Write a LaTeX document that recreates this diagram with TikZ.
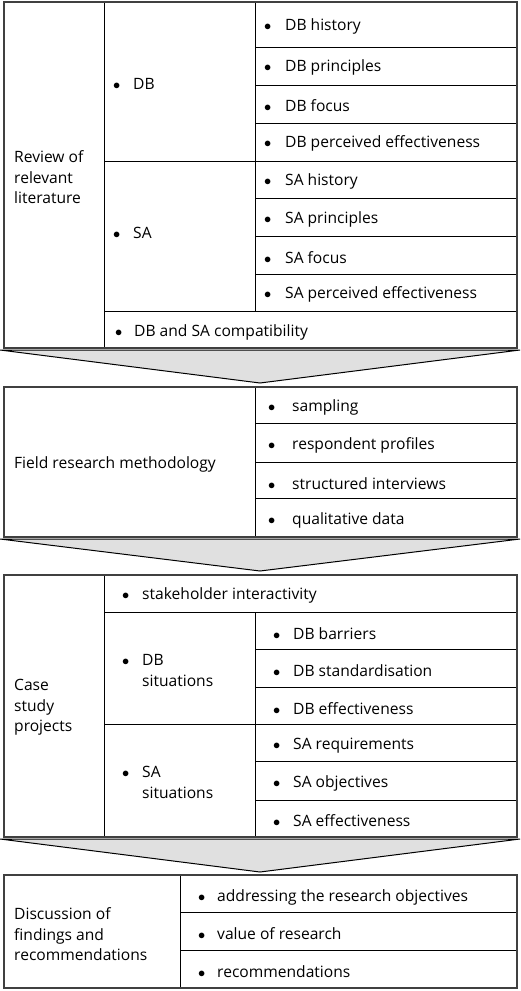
\documentclass[tikz,border=0pt]{standalone}
\usepackage{fontspec}
\setmainfont{Open Sans}
\usepackage{tikz}

\newcommand{\bul}[1]{\makebox[#1][l]{$\bullet$}}

\begin{document}
\begin{tikzpicture}[x=1pt, y=-1pt]
			\tikzset{txt/.style={anchor=west, align=left, inner sep=0pt, yshift=-1.5pt, font=\fontsize{15.6}{20.5}\selectfont}}
			\tikzset{frame/.style={draw=black!75, line width=2.5pt}}
			\tikzset{rule/.style={draw=black, line width=1pt}}
			\tikzset{chev/.style={fill=black!12, draw=black, line width=1pt, line join=miter}}
			\useasboundingbox (0,0) rectangle (520,991);
			%arrows between stages
			\filldraw[chev] (0,350) -- (520,350) -- (260,383) -- cycle;
			\filldraw[chev] (0,539) -- (520,539) -- (260,571) -- cycle;
			\filldraw[chev] (0,839) -- (520,839) -- (260,872) -- cycle;
			%rules of the tables
			\draw[rule] (104,2) -- (104,348);
			\draw[rule] (255,2) -- (255,311);
			\draw[rule] (104,161) -- (517,161);
			\draw[rule] (104,311) -- (517,311);
			\foreach \y in {47,85,123,198,236,274}
				\draw[rule] (255,\y) -- (517,\y);
			\draw[rule] (255,387) -- (255,537);
			\foreach \y in {423,462,498}
				\draw[rule] (255,\y) -- (517,\y);
			\draw[rule] (104,575) -- (104,837);
			\draw[rule] (104,612) -- (517,612);
			\draw[rule] (255,612) -- (255,837);
			\draw[rule] (104,724) -- (517,724);
			\foreach \y in {649,687,761,800}
				\draw[rule] (255,\y) -- (517,\y);
			\draw[rule] (180,875) -- (180,988);
			\foreach \y in {912,950}
				\draw[rule] (180,\y) -- (517,\y);
			%frames
			\draw[frame] (4,2) rectangle (517,348);
			\draw[frame] (4,387) rectangle (517,537);
			\draw[frame] (4,575) rectangle (517,837);
			\draw[frame] (4,875) rectangle (517,988);
			%literature
			\node[txt] (review) at (14,176) {Review of\\relevant\\literature};
			\node[txt] (db) at (113,82) {\bul{20pt}DB};
			\node[txt] (dbhist) at (264,25) {\bul{21pt}DB history};
			\node[txt] (dbprin) at (264,66) {\bul{21pt}DB principles};
			\node[txt] (dbfocus) at (264,104) {\bul{21pt}DB focus};
			\node[txt] (dbperc) at (264,142) {\bul{21pt}DB perceived effectiveness};
			\node[txt] (sa) at (113,231) {\bul{20pt}SA};
			\node[txt] (sahist) at (264,180) {\bul{21pt}SA history};
			\node[txt] (saprin) at (264,218) {\bul{21pt}SA principles};
			\node[txt] (safocus) at (264,256) {\bul{21pt}SA focus};
			\node[txt] (saperc) at (264,293) {\bul{21pt}SA perceived effectiveness};
			\node[txt] (compat) at (115,331) {\bul{19pt}DB and SA compatibility};
			%methodology
			\node[txt] (field) at (14,463) {Field research methodology};
			\node[txt] (sampling) at (268,406) {\bul{24pt}sampling};
			\node[txt] (profiles) at (268,444) {\bul{24pt}respondent profiles};
			\node[txt] (interviews) at (268,482) {\bul{24pt}structured interviews};
			\node[txt] (qualdata) at (268,519) {\bul{24pt}qualitative data};
			%case studies
			\node[txt] (case) at (14,706) {Case\\study\\projects};
			\node[txt] (stake) at (122,594) {\bul{20pt}stakeholder interactivity};
			\node[txt] (dbsit) at (122,669) {\bul{20pt}DB\\\hspace*{20pt}situations};
			\node[txt] (dbbarr) at (273,632) {\bul{20pt}DB barriers};
			\node[txt] (dbstand) at (273,669) {\bul{20pt}DB standardisation};
			\node[txt] (dbeff) at (273,707) {\bul{20pt}DB effectiveness};
			\node[txt] (sasit) at (122,781) {\bul{20pt}SA\\\hspace*{20pt}situations};
			\node[txt] (sareq) at (273,744) {\bul{20pt}SA requirements};
			\node[txt] (saobj) at (273,782) {\bul{20pt}SA objectives};
			\node[txt] (saeff) at (273,819) {\bul{20pt}SA effectiveness};
			%discussion
			\node[txt] (disc) at (14,933) {Discussion of\\findings and\\recommendations};
			\node[txt] (objectives) at (198,896) {\bul{19pt}addressing the research objectives};
			\node[txt] (value) at (198,932) {\bul{19pt}value of research};
			\node[txt] (recom) at (198,970) {\bul{19pt}recommendations};
\end{tikzpicture}
\end{document}
